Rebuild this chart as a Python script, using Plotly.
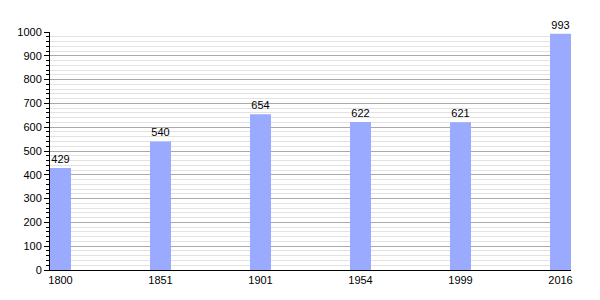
import plotly.graph_objects as go

years = ["1800", "1851", "1901", "1954", "1999", "2016"]
population = [429, 540, 654, 622, 621, 993]

fig = go.Figure()
fig.add_trace(go.Bar(
    x=years, y=population, width=0.21,
    marker=dict(color="#99aaff", line=dict(width=0)),
    text=[str(v) for v in population], textposition="outside",
    textfont=dict(family="Liberation Sans, Arial", size=11, color="#000"),
    cliponaxis=False,
))
fig.update_layout(
    width=600, height=300,
    margin=dict(l=50, r=29, t=32, b=30),
    paper_bgcolor="white", plot_bgcolor="white",
    showlegend=False,
    font=dict(family="Liberation Sans, Arial", size=11, color="#000"),
    xaxis=dict(type="category", range=[-0.105, 5.105], showline=True, linecolor="#000",
               linewidth=1, showgrid=False, ticks="", tickfont=dict(size=11)),
    yaxis=dict(range=[0, 1000], dtick=100, showline=True, linecolor="#000", linewidth=1,
               ticks="outside", ticklen=5, tickcolor="#000", gridcolor="#aaaaaa", gridwidth=1,
               zeroline=False, tickfont=dict(size=11),
               minor=dict(dtick=20, showgrid=True, gridcolor="#e2e2e2", ticks="outside",
                          ticklen=3, tickcolor="#000")),
)
fig.write_html("out.html")
